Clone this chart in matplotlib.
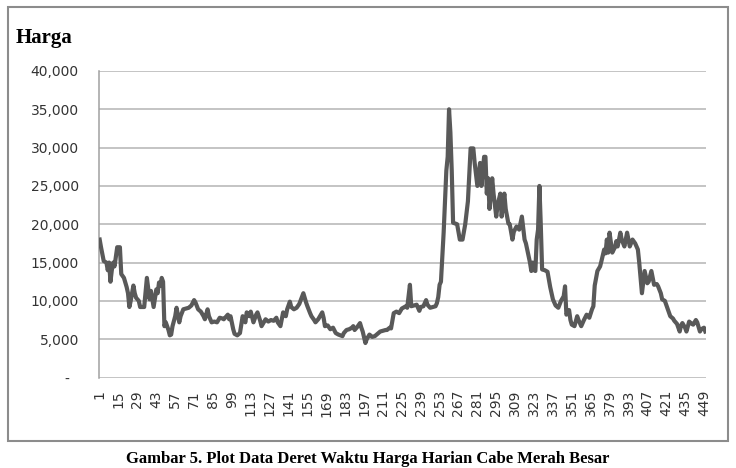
"""
    Daily price of big red chili (time series plot), Excel-like style.
"""

import matplotlib
matplotlib.use('Agg')
import matplotlib.pyplot as plt
from matplotlib.patches import Rectangle
from matplotlib.ticker import FuncFormatter

nDays = 450
dayIdx = [1, 2, 4, 6, 7, 8, 9, 10, 11, 12, 14, 16, 17, 19, 21, 22, 23, 24, 26, 27, 28, 30, 31, 34, 36,
          38, 39, 41, 43, 44, 45, 46, 47, 48, 49, 50, 52, 53, 54, 55, 57, 58, 60, 61, 63, 65, 67, 69, 71,
          72, 74, 76, 78, 79, 81, 82, 84, 86, 88, 90, 92, 93, 95, 96, 97, 98, 100, 101, 103, 105, 107,
          109, 110, 112, 113, 115, 117, 118, 120, 121, 123, 124, 126, 128, 130, 132, 133, 135, 137, 139,
          140, 142, 143, 145, 147, 149, 152, 154, 155, 157, 158, 160, 161, 163, 166, 167, 168, 170, 172,
          174, 176, 178, 181, 182, 184, 186, 188, 189, 190, 192, 194, 195, 196, 198, 199, 201, 203, 205,
          207, 209, 211, 213, 214, 216, 217, 219, 221, 223, 225, 226, 228, 229, 231, 232, 234, 236, 238,
          239, 241, 243, 244, 246, 248, 250, 251, 252, 253, 254, 256, 258, 259, 260, 261, 262, 263, 266,
          268, 270, 272, 274, 276, 278, 279, 281, 283, 284, 286, 287, 288, 289, 290, 292, 293, 295, 296,
          298, 299, 301, 302, 304, 305, 307, 308, 310, 312, 314, 315, 316, 317, 319, 320, 321, 322, 323,
          324, 325, 326, 327, 328, 329, 331, 333, 335, 337, 339, 341, 343, 345, 346, 347, 349, 350, 351,
          353, 355, 356, 358, 360, 362, 364, 366, 367, 368, 370, 372, 373, 375, 376, 377, 378, 379, 381,
          383, 384, 385, 387, 388, 390, 392, 394, 396, 398, 400, 401, 403, 405, 407, 408, 410, 412, 414,
          415, 417, 418, 420, 422, 424, 426, 427, 429, 431, 432, 433, 435, 436, 438, 440, 441, 443, 444,
          446, 447, 449, 450]
harga = [18000, 17000, 15200, 15000, 14000, 15000, 12500, 14000, 15000, 14500, 17000, 17000, 13500,
         13000, 11800, 11000, 9200, 10000, 12000, 11000, 10400, 10000, 9200, 9200, 13000, 10200, 11300,
         9200, 11500, 11000, 12400, 12000, 13000, 12500, 6700, 7200, 6200, 5500, 5600, 6700, 8000, 9100,
         7200, 8000, 8900, 9000, 9100, 9400, 10100, 9800, 8900, 8600, 8000, 7600, 8900, 8000, 7200, 7300,
         7200, 7800, 7700, 7600, 8000, 8200, 7600, 8000, 6300, 5700, 5500, 5800, 8000, 7200, 8500, 8000,
         8600, 7200, 8200, 8500, 7400, 6700, 7300, 7600, 7300, 7500, 7400, 7800, 7200, 6700, 8500, 8000,
         8900, 9900, 9200, 8900, 9100, 9600, 11000, 9800, 9300, 8400, 8000, 7500, 7200, 7600, 8500, 7800,
         6700, 6800, 6300, 6500, 5800, 5600, 5400, 5800, 6200, 6300, 6500, 6700, 6200, 6600, 7100, 6500,
         6000, 4500, 5000, 5600, 5300, 5400, 5700, 6000, 6100, 6200, 6200, 6500, 6400, 8400, 8600, 8400,
         9000, 9100, 9300, 9100, 12100, 9300, 9400, 9500, 8700, 9200, 9300, 10100, 9500, 9100, 9200, 9300,
         9700, 10500, 12100, 12500, 18900, 27000, 28800, 35000, 32000, 27000, 20200, 20000, 18000, 18000,
         20000, 23000, 29900, 29900, 28000, 25000, 28000, 25000, 28800, 28800, 24000, 26000, 22000, 26000,
         24000, 21000, 22500, 24000, 21000, 24000, 22000, 20100, 20000, 18000, 19000, 19700, 19300, 21000,
         19500, 18000, 17500, 15800, 15000, 13900, 15000, 14000, 13900, 18000, 19300, 25000, 20000, 14100,
         14000, 13800, 11800, 10200, 9400, 9100, 10000, 10600, 11900, 8200, 8800, 7500, 6900, 6700, 8000,
         7500, 6700, 7500, 8200, 7800, 8900, 9300, 12000, 13900, 14500, 15200, 16700, 16200, 18000, 16300,
         18900, 16300, 17000, 17800, 17100, 18900, 18000, 17100, 18900, 17100, 18000, 17500, 16700, 15000,
         11000, 13900, 12300, 12500, 13900, 12100, 12200, 11900, 11000, 10200, 10000, 9000, 8000, 7700,
         7400, 7000, 6000, 6800, 7100, 6500, 6000, 7300, 7000, 6900, 7500, 7200, 6000, 6300, 6500, 6000]
xTicks = list(range(1, 450, 14))
yTicks = [0, 5000, 10000, 15000, 20000, 25000, 30000, 35000, 40000]

W, H = 736, 468


def yFmt(v, pos):
    if v == 0:
        return '-  '
    return '{:,.0f}'.format(v)


################################################################################################################
def main():
    fig = plt.figure(figsize=(W / 100, H / 100), dpi=100)
    fig.patch.set_facecolor('white')

    # outer chart border
    fig.patches.append(Rectangle((8 / W, 1 - 441 / H), 720 / W, 434 / H, transform=fig.transFigure,
                                 fill=False, edgecolor='#8c8c8c', linewidth=1.5))

    ax = fig.add_axes([99 / W, 1 - 377.5 / H, 607 / W, (377.5 - 71) / H])
    ax.plot(dayIdx, harga, color='#595959', linewidth=3.0, solid_joinstyle='round', zorder=3)

    ax.set_xlim(0.5, nDays + 0.5)
    ax.set_ylim(0, 40000)
    ax.set_xticks(xTicks)
    ax.set_xticklabels([str(t) for t in xTicks], rotation=90, fontsize=10, color='#333333')
    ax.set_yticks(yTicks)
    ax.yaxis.set_major_formatter(FuncFormatter(yFmt))
    ax.tick_params(axis='y', length=0, pad=14.5, labelsize=10, labelcolor='#333333')
    ax.tick_params(axis='x', length=0, pad=9)
    ax.grid(axis='y', color='#b4b4b4', linewidth=1.1)
    ax.set_axisbelow(True)
    for side in ['top', 'right', 'bottom']:
        ax.spines[side].set_visible(False)
    ax.spines['left'].set_color('#a0a0a0')
    ax.spines['left'].set_linewidth(1.1)

    fig.text(16 / W, 1 - 43 / H, 'Harga', fontsize=15, fontweight='bold', family='Liberation Serif',
             va='baseline', ha='left')
    fig.text(368 / W, 1 - 451 / H, 'Gambar 5. Plot Data Deret Waktu Harga Harian Cabe Merah Besar',
             fontsize=12, fontweight='bold', family='Liberation Serif', va='top', ha='center')

    plt.savefig('out.png', dpi=100)
    plt.close()


if __name__ == '__main__':
    main()
